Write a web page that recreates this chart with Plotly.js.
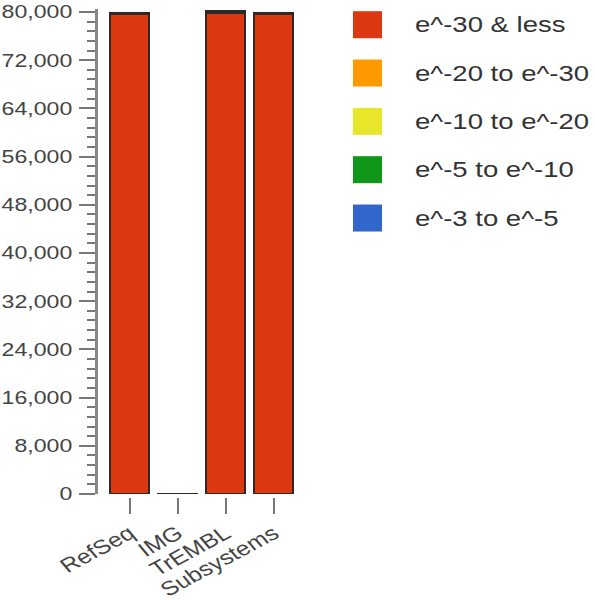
<!DOCTYPE html>
<html>
<head>
<meta charset="utf-8">
<script src="https://cdn.plot.ly/plotly-3.0.1.min.js"></script>
<style>
  html, body { margin: 0; padding: 0; background: #fff; overflow: hidden; }
  /* the reference picture is stretched sideways, so the chart is drawn narrow and widened */
  #chart { width: 476px; height: 600px; transform: scaleX(1.25); transform-origin: 0 0; }
</style>
</head>
<body>
<div id="chart"></div>
<script>
const databases = ["RefSeq", "IMG", "TrEMBL", "Subsystems"];
const bins = ["e^-30 & less", "e^-20 to e^-30", "e^-10 to e^-20", "e^-5 to e^-10", "e^-3 to e^-5"];
const colors = ["#dc3912", "#ff9900", "#e8e62a", "#109618", "#3366cc"];

// hits per e-value bin, per database
const e30 = [79700, 60, 79840, 79600];
const e20 = [150, 25, 250, 200];
const e10 = [60, 10, 100, 80];
const e5 = [30, 5, 40, 30];
const e3 = [15, 2, 20, 15];
const series = [e30, e20, e10, e5, e3];

const yTicks = [0, 8000, 16000, 24000, 32000, 40000, 48000, 56000, 64000, 72000, 80000];

const font = { family: "Liberation Sans, Arial, sans-serif", color: "#444" };

const traces = series.map((vals, i) => ({
  type: "bar",
  name: bins[i],
  x: databases,
  y: vals,
  marker: { color: colors[i], line: { color: "#2a2a2a", width: 1.5 } },
  hoverinfo: "name+y"
}));

// legend drawn by hand, big squares like the original
const shapes = [];
const annotations = [];
bins.forEach((b, i) => {
  const yc = (497 - (25 + i * 48.3)) / 487.7;
  const h = 13.5 / 487.7;
  shapes.push({
    type: "rect", xref: "paper", yref: "paper",
    x0: 1.2775, x1: 1.4225, y0: yc - h, y1: yc + h,
    fillcolor: colors[i], line: { width: 0 }
  });
  annotations.push({
    xref: "paper", yref: "paper", x: 1.5725, y: yc,
    xanchor: "left", yanchor: "middle", showarrow: false,
    text: b.replace("&", "&amp;"),
    font: { family: font.family, size: 22, color: "#333" }
  });
});

const layout = {
  barmode: "stack",
  bargap: 0.19,
  showlegend: false,
  margin: { l: 78, r: 238, t: 9.3, b: 103 },
  paper_bgcolor: "#fff",
  plot_bgcolor: "#fff",
  font,
  xaxis: {
    range: [-0.67, 3.5],
    anchor: "free",
    position: 0,
    showline: false,
    showgrid: false,
    ticks: "outside",
    ticklen: 16,
    tickwidth: 1.6,
    tickcolor: "#777",
    tickangle: -34,
    tickfont: { size: 20, color: "#444" }
  },
  yaxis: {
    domain: [0.00615, 1],
    range: [0, 80500],
    tickvals: yTicks,
    tickformat: ",",
    showgrid: false,
    zeroline: false,
    showline: true,
    linecolor: "#888",
    linewidth: 2,
    ticks: "outside",
    ticklen: 12.5,
    tickwidth: 2,
    tickcolor: "#777",
    ticklabelstandoff: 2,
    tickfont: { size: 18.5, color: "#444" },
    minor: { dtick: 1600, ticks: "outside", ticklen: 6.5, tickwidth: 2, tickcolor: "#777", showgrid: false }
  },
  shapes,
  annotations
};

Plotly.newPlot("chart", traces, layout, { displayModeBar: false, staticPlot: true });
</script>
</body>
</html>
